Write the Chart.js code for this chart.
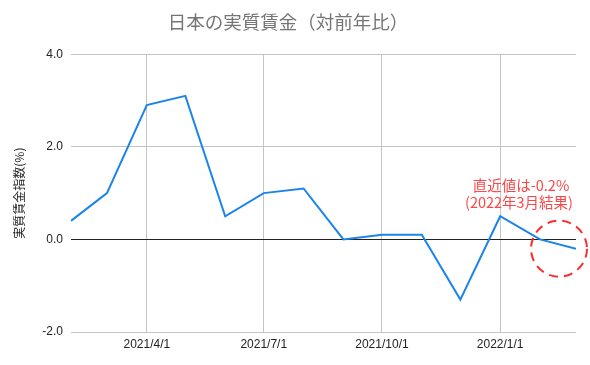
<!DOCTYPE html>
<html>
<head>
<meta charset="utf-8">
<script src="https://cdn.jsdelivr.net/npm/chart.js@4"></script>
<style>
  html, body { margin: 0; padding: 0; background: #fff; }
  #wrap { width: 590px; height: 365px; }
</style>
</head>
<body>
<div id="wrap"><canvas id="chart"></canvas></div>
<script>
// months (first of month) and real wage index, % change year on year
const months = ['2021/2/1', '2021/3/1', '2021/4/1', '2021/5/1', '2021/6/1', '2021/7/1', '2021/8/1',
                '2021/9/1', '2021/10/1', '2021/11/1', '2021/12/1', '2022/1/1', '2022/2/1', '2022/3/1'];
const realWage = [0.4, 1.0, 2.9, 3.1, 0.5, 1.0, 1.1, 0.0, 0.1, 0.1, -1.3, 0.5, 0.0, -0.2];
const xTickLabels = ['2021/4/1', '2021/7/1', '2021/10/1', '2022/1/1'];
const yTicks = [-2, 0, 2, 4];
const noteLines = ['直近値は-0.2%', '(2022年3月結果)'];

const font = "'Liberation Sans', Arial, 'Noto Sans CJK JP', sans-serif";
const dayMs = 86400000;
const toDate = s => { const p = s.split('/').map(Number); return Date.UTC(p[0], p[1] - 1, p[2]); };
const start = toDate(months[0]);
const dayOf = s => Math.round((toDate(s) - start) / dayMs);
const labelByDay = {};
xTickLabels.forEach(l => { labelByDay[dayOf(l)] = l; });

const points = months.map((m, i) => ({ x: dayOf(m), y: realWage[i] }));

// red note + dashed circle around the latest value
const notePlugin = {
  id: 'note',
  afterDatasetsDraw(chart) {
    const xs = chart.scales.x, ys = chart.scales.y;
    const last = points[points.length - 1];
    const px = xs.getPixelForValue(last.x), py = ys.getPixelForValue(last.y);
    const ctx = chart.ctx;
    ctx.save();
    ctx.strokeStyle = '#ff2a2a';
    ctx.lineWidth = 2;
    ctx.setLineDash([9, 6]);
    ctx.beginPath();
    ctx.arc(px - 17, py, 28, 0, Math.PI * 2);
    ctx.stroke();
    ctx.setLineDash([]);
    ctx.fillStyle = '#ff4646';
    ctx.font = "14.5px 'Noto Sans CJK JP', sans-serif";
    ctx.textAlign = 'center';
    ctx.textBaseline = 'middle';
    ctx.fillText(noteLines[0], px - 55, py - 63);
    ctx.fillText(noteLines[1], px - 57, py - 46);
    ctx.restore();
  }
};

new Chart(document.getElementById('chart'), {
  type: 'line',
  data: {
    datasets: [{
      data: points,
      borderColor: '#1a84ec',
      borderWidth: 2,
      pointRadius: 0,
      tension: 0,
      fill: false
    }]
  },
  options: {
    responsive: true,
    maintainAspectRatio: false,
    animation: false,
    layout: { padding: { left: 0, right: 14, bottom: 0 } },
    plugins: {
      legend: { display: false },
      tooltip: { enabled: false },
      title: {
        display: true,
        text: '日本の実質賃金（対前年比）',
        color: '#757575',
        font: { family: "'Noto Sans CJK JP', sans-serif", size: 18.5, weight: 'normal' },
        padding: { top: 11, bottom: 21 }
      }
    },
    scales: {
      x: {
        type: 'linear',
        min: 0,
        max: points[points.length - 1].x,
        afterBuildTicks: s => { s.ticks = xTickLabels.map(l => ({ value: dayOf(l) })); },
        afterFit: s => { s.height = 33; },
        border: { display: false },
        grid: { color: '#c4c4c4', drawTicks: false },
        ticks: {
          color: '#222',
          padding: 5,
          maxRotation: 0,
          font: { family: font, size: 12 },
          callback: v => labelByDay[v] || ''
        }
      },
      y: {
        min: -2,
        max: 4,
        afterBuildTicks: s => { s.ticks = yTicks.map(v => ({ value: v })); },
        afterFit: s => { s.width = 71; },
        border: { display: false },
        grid: {
          drawTicks: false,
          color: c => c.tick && c.tick.value === 0 ? '#222' : '#c4c4c4'
        },
        title: {
          display: true,
          text: '実質賃金指数(%)',
          color: '#222',
          font: { family: "'Noto Sans CJK JP', sans-serif", size: 12 },
          padding: { top: 12, bottom: 4 }
        },
        ticks: {
          color: '#222',
          padding: 8,
          font: { family: font, size: 12 },
          callback: v => v.toFixed(1)
        }
      }
    }
  },
  plugins: [notePlugin]
});
</script>
</body>
</html>
